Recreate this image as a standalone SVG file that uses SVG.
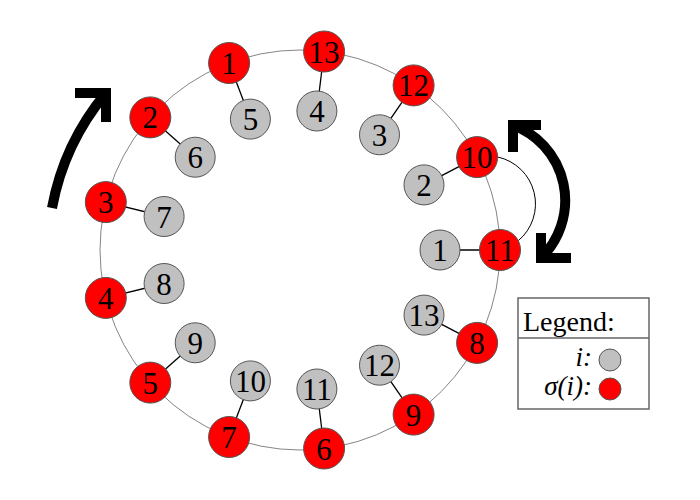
<svg xmlns="http://www.w3.org/2000/svg" width="700" height="500" viewBox="0 0 700 500">
<style>
.ring{fill:none;stroke:#666;stroke-width:0.8}
.edge{stroke:#000;stroke-width:1.3}
.g{fill:#c0c0c0;stroke:#555;stroke-width:1}
.r{fill:#ff0000;stroke:#555;stroke-width:1}
.t{font-family:"Liberation Serif",serif;font-size:31px;text-anchor:middle;fill:#000}
.big{fill:none;stroke:#000;stroke-width:10;stroke-linejoin:miter;stroke-miterlimit:10}
.lg{font-family:"Liberation Serif",serif;font-size:28px;fill:#000}
.li{font-family:"Liberation Serif",serif;font-size:27px;font-style:italic;text-anchor:end;fill:#000}
</style>
<rect width="700" height="500" fill="#fff"/>
<circle class="ring" cx="300" cy="250" r="200"/>
<g id="connectors">
<line class="edge" x1="500" y1="250" x2="440" y2="250"/>
<line class="edge" x1="477.1" y1="157.1" x2="424.0" y2="184.9"/>
<line class="edge" x1="413.6" y1="85.4" x2="379.5" y2="134.8"/>
<line class="edge" x1="324.1" y1="51.5" x2="316.9" y2="111.0"/>
<line class="edge" x1="229.1" y1="63.0" x2="250.4" y2="119.1"/>
<line class="edge" x1="150.3" y1="117.4" x2="195.2" y2="157.2"/>
<line class="edge" x1="105.8" y1="202.1" x2="164.1" y2="216.5"/>
<line class="edge" x1="105.8" y1="297.9" x2="164.1" y2="283.5"/>
<line class="edge" x1="150.3" y1="382.6" x2="195.2" y2="342.8"/>
<line class="edge" x1="229.1" y1="437.0" x2="250.4" y2="380.9"/>
<line class="edge" x1="324.1" y1="448.5" x2="316.9" y2="389.0"/>
<line class="edge" x1="413.6" y1="414.6" x2="379.5" y2="365.2"/>
<line class="edge" x1="477.1" y1="342.9" x2="424.0" y2="315.1"/>
<path d="M497.6 157 A48 48 0 0 1 518.3 240.7" fill="none" stroke="#000" stroke-width="1"/>
<path class="big" d="M52 208 A250 250 0 0 1 106 93"/>
<polyline class="big" points="75,93 106,93 106,122"/>
<path class="big" d="M513 125 A80.6 80.6 0 0 1 541 258"/>
<polyline class="big" points="541,125 513,125 513,152"/>
<polyline class="big" points="541,233 541,258 571,258"/>
</g>
<g id="g1"><circle class="g" cx="440" cy="250" r="20"/><text class="t" x="440" y="261">1</text></g>
<g id="g2"><circle class="g" cx="424.0" cy="184.9" r="20"/><text class="t" x="424.0" y="195.9">2</text></g>
<g id="g3"><circle class="g" cx="379.5" cy="134.8" r="20"/><text class="t" x="379.5" y="145.8">3</text></g>
<g id="g4"><circle class="g" cx="316.9" cy="111.0" r="20"/><text class="t" x="316.9" y="122.0">4</text></g>
<g id="g5"><circle class="g" cx="250.4" cy="119.1" r="20"/><text class="t" x="250.4" y="130.1">5</text></g>
<g id="g6"><circle class="g" cx="195.2" cy="157.2" r="20"/><text class="t" x="195.2" y="168.2">6</text></g>
<g id="g7"><circle class="g" cx="164.1" cy="216.5" r="20"/><text class="t" x="164.1" y="227.5">7</text></g>
<g id="g8"><circle class="g" cx="164.1" cy="283.5" r="20"/><text class="t" x="164.1" y="294.5">8</text></g>
<g id="g9"><circle class="g" cx="195.2" cy="342.8" r="20"/><text class="t" x="195.2" y="353.8">9</text></g>
<g id="g10"><circle class="g" cx="250.4" cy="380.9" r="20"/><text class="t" x="250.4" y="391.9">10</text></g>
<g id="g11"><circle class="g" cx="316.9" cy="389.0" r="20"/><text class="t" x="316.9" y="400.0">11</text></g>
<g id="g12"><circle class="g" cx="379.5" cy="365.2" r="20"/><text class="t" x="379.5" y="376.2">12</text></g>
<g id="g13"><circle class="g" cx="424.0" cy="315.1" r="20"/><text class="t" x="424.0" y="326.1">13</text></g>
<g id="r11"><circle class="r" cx="500" cy="250" r="20.5"/><text class="t" x="500" y="261">11</text></g>
<g id="r10"><circle class="r" cx="477.1" cy="157.1" r="20.5"/><text class="t" x="477.1" y="168.1">10</text></g>
<g id="r12"><circle class="r" cx="413.6" cy="85.4" r="20.5"/><text class="t" x="413.6" y="96.4">12</text></g>
<g id="r13"><circle class="r" cx="324.1" cy="51.5" r="20.5"/><text class="t" x="324.1" y="62.5">13</text></g>
<g id="r1"><circle class="r" cx="229.1" cy="63.0" r="20.5"/><text class="t" x="229.1" y="74.0">1</text></g>
<g id="r2"><circle class="r" cx="150.3" cy="117.4" r="20.5"/><text class="t" x="150.3" y="128.4">2</text></g>
<g id="r3"><circle class="r" cx="105.8" cy="202.1" r="20.5"/><text class="t" x="105.8" y="213.1">3</text></g>
<g id="r4"><circle class="r" cx="105.8" cy="297.9" r="20.5"/><text class="t" x="105.8" y="308.9">4</text></g>
<g id="r5"><circle class="r" cx="150.3" cy="382.6" r="20.5"/><text class="t" x="150.3" y="393.6">5</text></g>
<g id="r7"><circle class="r" cx="229.1" cy="437.0" r="20.5"/><text class="t" x="229.1" y="448.0">7</text></g>
<g id="r6"><circle class="r" cx="324.1" cy="448.5" r="20.5"/><text class="t" x="324.1" y="459.5">6</text></g>
<g id="r9"><circle class="r" cx="413.6" cy="414.6" r="20.5"/><text class="t" x="413.6" y="425.6">9</text></g>
<g id="r8"><circle class="r" cx="477.1" cy="342.9" r="20.5"/><text class="t" x="477.1" y="353.9">8</text></g>
<g id="legend">
<rect x="518" y="298" width="131" height="111" fill="#fff" stroke="#666" stroke-width="1.5"/>
<line x1="518" y1="338" x2="649" y2="338" stroke="#666" stroke-width="1.5"/>
<text class="lg" x="523" y="331">Legend:</text>
<text class="li" x="592" y="366">i:</text>
<text class="li" x="592" y="395">σ(i):</text>
<circle class="g" cx="610" cy="360" r="11"/>
<circle class="r" cx="610" cy="389" r="11"/>
</g>
</svg>
